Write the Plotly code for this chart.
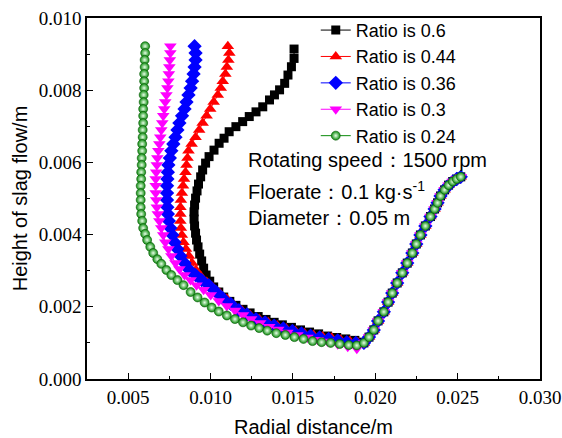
import plotly.graph_objects as go

# ---------------- data (m) ----------------
series_names = ["Ratio is 0.6", "Ratio is 0.44", "Ratio is 0.36", "Ratio is 0.3", "Ratio is 0.24"]

# shared rising branch (outer wall), all ratios overlap here
rise_x = [0.01931, 0.01962, 0.01991, 0.02017, 0.02052, 0.02078, 0.02103, 0.02133, 0.02164, 0.02194,
          0.02225, 0.02249, 0.02274, 0.02304, 0.02335, 0.02360, 0.02378, 0.02396, 0.02421, 0.02445,
          0.02470, 0.02494, 0.02519]
rise_y = [0.00100, 0.00116, 0.00136, 0.00161, 0.00186, 0.00213, 0.00238, 0.00266, 0.00294, 0.00321,
          0.00349, 0.00374, 0.00399, 0.00424, 0.00450, 0.00471, 0.00488, 0.00507, 0.00524, 0.00537,
          0.00547, 0.00554, 0.00560]

# heights of the upper (near-vertical) part shared by ratios 0.44 .. 0.24
upper_y = [0.00922, 0.00903, 0.00884, 0.00864, 0.00845, 0.00825, 0.00806, 0.00787, 0.00767, 0.00748,
           0.00729, 0.00709, 0.00690, 0.00670, 0.00651, 0.00632, 0.00612, 0.00593, 0.00573, 0.00554,
           0.00535, 0.00515, 0.00496, 0.00476, 0.00457, 0.00438]

r060_x = [0.01507, 0.01507, 0.01491, 0.01470, 0.01450, 0.01419, 0.01388, 0.01358, 0.01317, 0.01276,
          0.01235, 0.01195, 0.01154, 0.01113, 0.01082, 0.01052, 0.01021, 0.00991, 0.00970, 0.00952,
          0.00940, 0.00927, 0.00918, 0.00909, 0.00903, 0.00900, 0.00900, 0.00903, 0.00909, 0.00915,
          0.00924, 0.00934, 0.00946, 0.00958, 0.00973, 0.00995, 0.01019, 0.01050, 0.01080, 0.01117,
          0.01154, 0.01197, 0.01240, 0.01289, 0.01337, 0.01386, 0.01436, 0.01491, 0.01546, 0.01601,
          0.01656, 0.01711, 0.01766, 0.01821, 0.01876, 0.01925]
r060_y = [0.00914, 0.00888, 0.00865, 0.00842, 0.00819, 0.00801, 0.00787, 0.00773, 0.00754, 0.00740,
          0.00727, 0.00713, 0.00699, 0.00685, 0.00667, 0.00653, 0.00634, 0.00616, 0.00598, 0.00579,
          0.00560, 0.00540, 0.00521, 0.00501, 0.00482, 0.00463, 0.00443, 0.00424, 0.00404, 0.00385,
          0.00366, 0.00346, 0.00327, 0.00307, 0.00288, 0.00271, 0.00255, 0.00241, 0.00227, 0.00215,
          0.00204, 0.00193, 0.00183, 0.00173, 0.00165, 0.00157, 0.00150, 0.00143, 0.00136, 0.00130,
          0.00125, 0.00119, 0.00115, 0.00111, 0.00107, 0.00102]

r044_x = [0.01105, 0.01114, 0.01108, 0.01099, 0.01090, 0.01074, 0.01062, 0.01044, 0.01019, 0.00998,
          0.00976, 0.00952, 0.00931, 0.00909, 0.00885, 0.00866, 0.00860, 0.00854, 0.00848, 0.00839,
          0.00833, 0.00826, 0.00820, 0.00817, 0.00817, 0.00817,
          0.00820, 0.00826, 0.00836, 0.00851, 0.00869, 0.00888, 0.00912, 0.00940, 0.00977, 0.01013,
          0.01056, 0.01099, 0.01142, 0.01191, 0.01240, 0.01295, 0.01350, 0.01405, 0.01460, 0.01515,
          0.01570, 0.01625, 0.01680, 0.01735, 0.01790, 0.01845, 0.01894]
r044_y_low = [0.00418, 0.00399, 0.00379, 0.00360, 0.00341, 0.00321, 0.00302, 0.00285, 0.00269, 0.00255,
              0.00238, 0.00222, 0.00205, 0.00190, 0.00177, 0.00166, 0.00157, 0.00148, 0.00140, 0.00133,
              0.00127, 0.00122, 0.00118, 0.00114, 0.00109, 0.00105, 0.00102]

r036_x = [0.00903, 0.00909, 0.00909, 0.00903, 0.00897, 0.00888, 0.00879, 0.00866, 0.00854, 0.00842,
          0.00827, 0.00811, 0.00799, 0.00787, 0.00774, 0.00762, 0.00753, 0.00744, 0.00741, 0.00738,
          0.00736, 0.00736, 0.00736, 0.00738, 0.00741, 0.00747,
          0.00756, 0.00768, 0.00781, 0.00799, 0.00817, 0.00842, 0.00872, 0.00909, 0.00946, 0.00989,
          0.01032, 0.01074, 0.01123, 0.01172, 0.01221, 0.01276, 0.01331, 0.01386, 0.01442, 0.01497,
          0.01552, 0.01607, 0.01662, 0.01717, 0.01772, 0.01827, 0.01882]
r036_y_low = [0.00418, 0.00399, 0.00379, 0.00360, 0.00341, 0.00321, 0.00302, 0.00288, 0.00274, 0.00260,
              0.00242, 0.00224, 0.00208, 0.00191, 0.00179, 0.00166, 0.00157, 0.00148, 0.00140, 0.00133,
              0.00126, 0.00120, 0.00115, 0.00111, 0.00107, 0.00102, 0.00100]

r030_x = [0.00756, 0.00756, 0.00753, 0.00750, 0.00747, 0.00744, 0.00738, 0.00732, 0.00725, 0.00719,
          0.00713, 0.00707, 0.00701, 0.00695, 0.00689, 0.00683, 0.00677, 0.00674, 0.00670, 0.00667,
          0.00667, 0.00667, 0.00670, 0.00674, 0.00680, 0.00689,
          0.00701, 0.00713, 0.00725, 0.00744, 0.00762, 0.00787, 0.00811, 0.00842, 0.00879, 0.00915,
          0.00958, 0.01001, 0.01050, 0.01099, 0.01148, 0.01197, 0.01246, 0.01301, 0.01356, 0.01411,
          0.01466, 0.01527, 0.01588, 0.01650, 0.01711, 0.01772, 0.01833, 0.01888]
r030_y_low = [0.00418, 0.00399, 0.00379, 0.00360, 0.00341, 0.00321, 0.00305, 0.00288, 0.00274, 0.00260,
              0.00247, 0.00233, 0.00216, 0.00202, 0.00190, 0.00177, 0.00166, 0.00155, 0.00145, 0.00137,
              0.00129, 0.00122, 0.00115, 0.00109, 0.00104, 0.00096, 0.00089, 0.00084]

r024_x = [0.00603, 0.00603, 0.00600, 0.00600, 0.00597, 0.00597, 0.00597, 0.00594, 0.00594, 0.00591,
          0.00591, 0.00591, 0.00588, 0.00588, 0.00585, 0.00585, 0.00582, 0.00582, 0.00579, 0.00579,
          0.00576, 0.00576, 0.00576, 0.00576, 0.00579, 0.00585,
          0.00591, 0.00603, 0.00615, 0.00634, 0.00652, 0.00677, 0.00701, 0.00732, 0.00762, 0.00799,
          0.00836, 0.00879, 0.00921, 0.00964, 0.01007, 0.01050, 0.01099, 0.01148, 0.01197, 0.01246,
          0.01295, 0.01344, 0.01399, 0.01454, 0.01509, 0.01564, 0.01619, 0.01674, 0.01729, 0.01784,
          0.01839, 0.01888]
r024_y_low = [0.00418, 0.00402, 0.00385, 0.00366, 0.00349, 0.00332, 0.00319, 0.00302, 0.00288, 0.00274,
              0.00260, 0.00241, 0.00226, 0.00212, 0.00198, 0.00187, 0.00176, 0.00166, 0.00157, 0.00148,
              0.00141, 0.00134, 0.00127, 0.00122, 0.00116, 0.00111, 0.00105, 0.00102, 0.00100, 0.00097,
              0.00094, 0.00093]

x_ticks = [0.005, 0.010, 0.015, 0.020, 0.025, 0.030]
y_ticks = [0.000, 0.002, 0.004, 0.006, 0.008, 0.010]

# ---------------- figure ----------------
series = [
    (series_names[0], r060_x + rise_x, r060_y + rise_y, "#000000", "square", 9, None),
    (series_names[1], r044_x + rise_x, upper_y + r044_y_low + rise_y, "#ff0000", "triangle-up", 11, None),
    (series_names[2], r036_x + rise_x, upper_y + r036_y_low + rise_y, "#0000ff", "diamond", 11, None),
    (series_names[3], r030_x + rise_x, upper_y + r030_y_low + rise_y, "#ff00ff", "triangle-down", 11, None),
    (series_names[4], r024_x + rise_x, upper_y + r024_y_low + rise_y, "#0a8a0a", "circle", 9, "#e8ffe8"),
]

fig = go.Figure()
for name, xs, ys, col, sym, size, grad in series:
    marker = dict(color=col, symbol=sym, size=size, line=dict(width=0))
    if grad:
        marker["gradient"] = dict(type="radial", color=grad)
        marker["line"] = dict(width=0.6, color="#0a5a0a")
    fig.add_trace(go.Scatter(x=xs, y=ys, mode="lines+markers", name=name,
                             line=dict(color=col, width=1), marker=marker))

axis_common = dict(showline=True, linecolor="black", linewidth=1.5, mirror=True,
                   showgrid=False, zeroline=False, ticks="inside", ticklen=6,
                   tickwidth=1.2, tickcolor="black", automargin=False,
                   ticklabeloverflow="allow",
                   tickfont=dict(family="Liberation Serif", size=19, color="black"))

fig.update_xaxes(range=[0.0025, 0.030], tickvals=x_ticks, tickformat=".3f",
                 minor=dict(ticks="inside", ticklen=3, dtick=0.0025, tick0=0, tickcolor="black", tickwidth=1),
                 title=dict(text="Radial distance/m", standoff=18,
                            font=dict(family="Liberation Sans", size=20, color="black")),
                 **axis_common)
fig.update_yaxes(range=[0, 0.010], tickvals=y_ticks, tickformat=".3f",
                 minor=dict(ticks="inside", ticklen=3, dtick=0.001, tick0=0, tickcolor="black", tickwidth=1),
                 title=dict(text="Height of slag flow/m", standoff=6,
                            font=dict(family="Liberation Sans", size=20, color="black")),
                 **axis_common)

fig.add_annotation(text="Rotating speed：1500 rpm", x=0.350, y=0.606, xref="paper", yref="paper",
                   xanchor="left", yanchor="middle", showarrow=False,
                   font=dict(family="Liberation Sans", size=20, color="black"))
fig.add_annotation(text="Floerate：0.1 kg·s<sup>-1</sup>", x=0.350, y=0.521, xref="paper", yref="paper",
                   xanchor="left", yanchor="middle", showarrow=False,
                   font=dict(family="Liberation Sans", size=20, color="black"))
fig.add_annotation(text="Diameter：0.05 m", x=0.350, y=0.447, xref="paper", yref="paper",
                   xanchor="left", yanchor="middle", showarrow=False,
                   font=dict(family="Liberation Sans", size=20, color="black"))

fig.update_layout(
    width=562, height=438,
    margin=dict(l=87, r=22, t=18, b=59),
    paper_bgcolor="white", plot_bgcolor="white",
    legend=dict(x=0.505, y=1.017, xanchor="left", yanchor="top",
                bgcolor="rgba(0,0,0,0)", borderwidth=0, tracegroupgap=0,
                font=dict(family="Liberation Sans", size=18, color="black")),
)

fig.write_html("out.html")
